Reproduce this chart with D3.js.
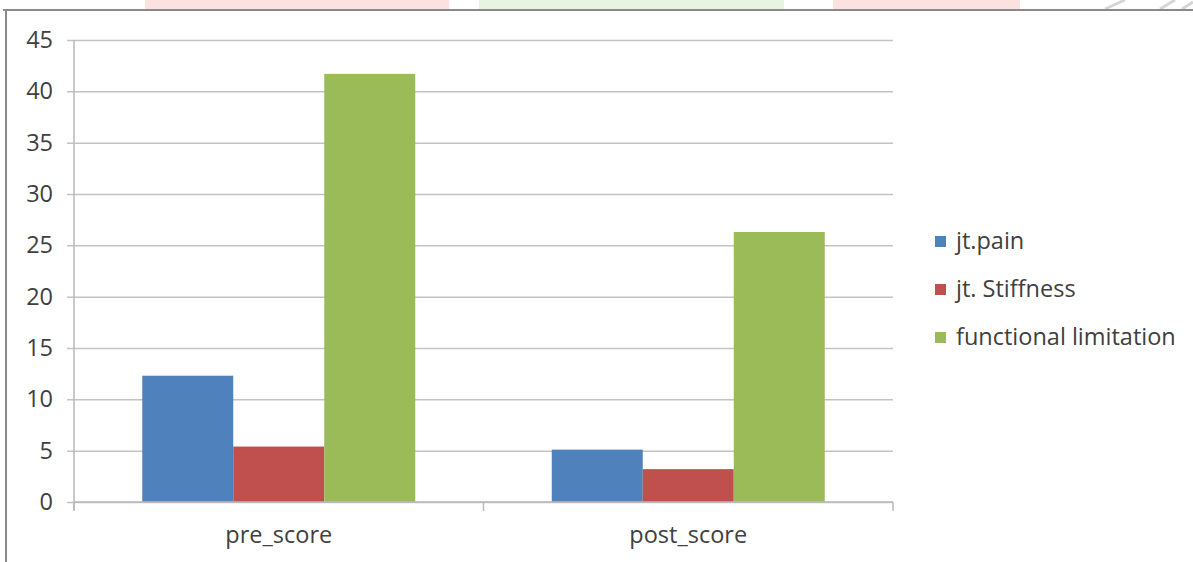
<!DOCTYPE html>
<html>
<head>
<meta charset="utf-8">
<script src="https://cdn.jsdelivr.net/npm/d3@7"></script>
<style>
  html, body { margin: 0; padding: 0; background: #fff; }
  svg { display: block; }
  text { font-family: "Open Sans", sans-serif; fill: #404040; }
</style>
</head>
<body>
<svg id="chart" width="1193" height="562"></svg>
<script>
// Scores before and after treatment
const categories = ["pre_score", "post_score"];
const seriesNames = ["jt.pain", "jt. Stiffness", "functional limitation"];
const jtPain = [12.3, 5.1];
const jtStiffness = [5.4, 3.2];
const functionalLimitation = [41.7, 26.3];
const yTicks = [0, 5, 10, 15, 20, 25, 30, 35, 40, 45];
const seriesColors = ["#4f81bd", "#c0504d", "#9bbb59"];

const seriesValues = [jtPain, jtStiffness, functionalLimitation];
const rows = categories.map((c, i) => ({
  category: c,
  values: seriesNames.map((s, j) => ({ series: s, value: seriesValues[j][i] }))
}));

const FONT = 23.5;
const svg = d3.select("#chart");

// faint header strip above the frame
const strip = [
  { x0: 145, x1: 449, color: "#fbe1df" },
  { x0: 479, x1: 784, color: "#e8f3e1" },
  { x0: 833, x1: 1020, color: "#fbe1df" }
];
svg.selectAll("rect.strip").data(strip).join("rect")
  .attr("class", "strip")
  .attr("x", d => d.x0).attr("y", 0)
  .attr("width", d => d.x1 - d.x0).attr("height", 9)
  .attr("fill", d => d.color);
svg.append("path").attr("d", "M1105,9L1125,0M1160,9L1175,0M1182,9L1193,2")
  .attr("stroke", "#d6d6d6").attr("stroke-width", 3).attr("fill", "none");

// chart frame (top and left edges visible)
svg.append("line").attr("x1", 3).attr("x2", 1193).attr("y1", 10).attr("y2", 10)
  .attr("stroke", "#8a8a8a").attr("stroke-width", 2);
svg.append("line").attr("x1", 6).attr("x2", 6).attr("y1", 10).attr("y2", 562)
  .attr("stroke", "#8a8a8a").attr("stroke-width", 2);

const plot = { left: 74, right: 893, top: 40, bottom: 502 };

const x0 = d3.scaleBand().domain(categories).range([plot.left, plot.right]).paddingInner(0).paddingOuter(0);
const x1 = d3.scaleBand().domain(seriesNames).range([0, x0.bandwidth()]).paddingInner(0).paddingOuter(0.75);
const y = d3.scaleLinear().domain([0, 45]).range([plot.bottom, plot.top]);
const color = d3.scaleOrdinal().domain(seriesNames).range(seriesColors);

// horizontal gridlines with tick labels
const yAxis = d3.axisLeft(y).tickValues(yTicks).tickSize(-(plot.right - plot.left + 7)).tickPadding(14);
const gy = svg.append("g").attr("transform", `translate(${plot.left - 7},0)`).call(yAxis);
gy.select(".domain").remove();
gy.selectAll(".tick line").attr("stroke", "#c3c3c3").attr("stroke-width", 1.5);
gy.selectAll(".tick text").attr("font-size", FONT).attr("fill", "#404040")
  .style("font-family", "'Open Sans', sans-serif");

// vertical axis line
svg.append("line").attr("x1", plot.left).attr("x2", plot.left)
  .attr("y1", plot.top).attr("y2", plot.bottom + 8)
  .attr("stroke", "#b8b8b8").attr("stroke-width", 1.5);

// bars
const groups = svg.append("g").selectAll("g").data(rows).join("g")
  .attr("transform", d => `translate(${x0(d.category)},0)`);
groups.selectAll("rect").data(d => d.values).join("rect")
  .attr("x", d => x1(d.series))
  .attr("width", x1.bandwidth())
  .attr("y", d => y(d.value))
  .attr("height", d => y(0) - y(d.value))
  .attr("fill", d => color(d.series));

// category axis
const xAxis = d3.axisBottom(x0).tickSize(0).tickPadding(24);
const gx = svg.append("g").attr("transform", `translate(0,${plot.bottom})`).call(xAxis);
gx.select(".domain").attr("stroke", "#b8b8b8").attr("stroke-width", 1.5)
  .attr("d", `M${plot.left},0H${plot.right}`);
gx.selectAll(".tick text").attr("font-size", FONT).attr("fill", "#404040")
  .style("font-family", "'Open Sans', sans-serif");
// boundary tick marks between categories
const boundaries = [plot.left, x0(categories[1]), plot.right];
gx.selectAll("line.bound").data(boundaries).join("line")
  .attr("class", "bound")
  .attr("x1", d => d).attr("x2", d => d)
  .attr("y1", 0).attr("y2", 9)
  .attr("stroke", "#b8b8b8").attr("stroke-width", 1.5);

// legend
const legend = svg.append("g").attr("transform", "translate(935,241)");
const items = legend.selectAll("g").data(seriesNames).join("g")
  .attr("transform", (d, i) => `translate(0,${i * 48})`);
items.append("rect").attr("x", 0).attr("y", -5).attr("width", 11).attr("height", 11)
  .attr("fill", d => color(d));
items.append("text").attr("x", 21).attr("y", 0).attr("dy", "0.35em")
  .attr("font-size", FONT).text(d => d);
</script>
</body>
</html>
